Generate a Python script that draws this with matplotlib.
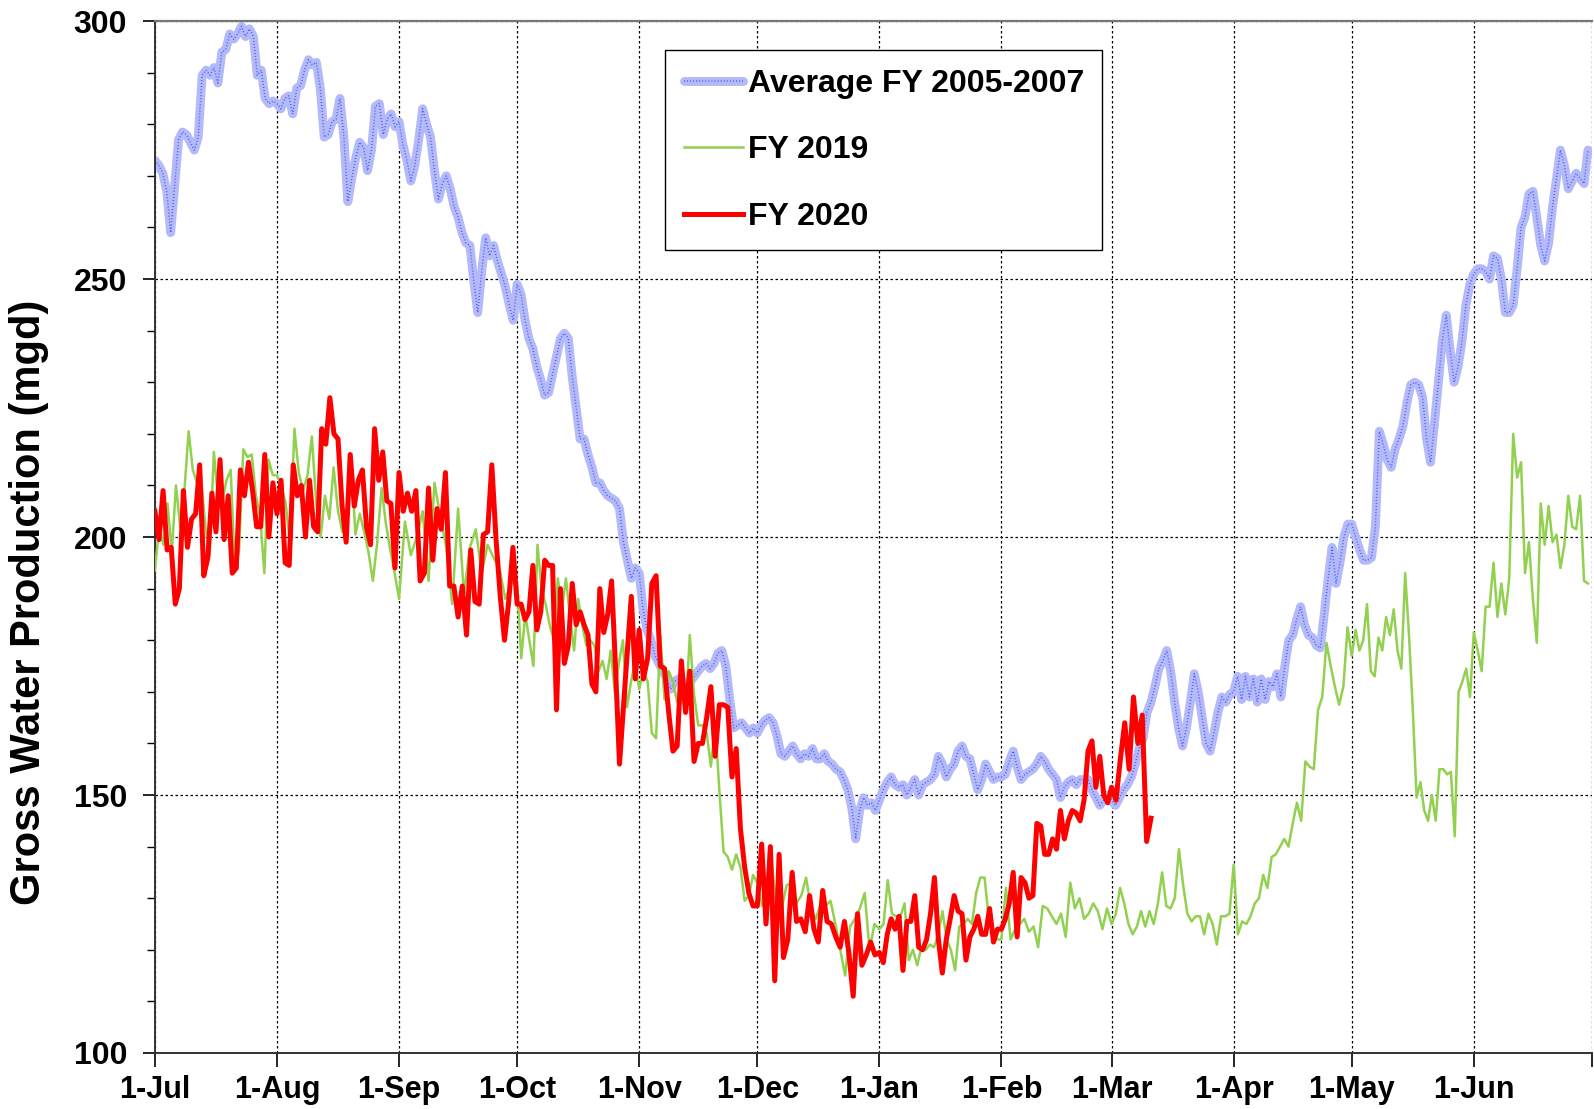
import numpy as np
import matplotlib.pyplot as plt
from matplotlib.ticker import MultipleLocator

# day of fiscal year at which each month starts (1-Jul .. 1-Jun, then next 1-Jul)
month_starts = [0, 31, 62, 92, 123, 153, 184, 215, 243, 274, 304, 335, 365]
month_labels = ['1-Jul', '1-Aug', '1-Sep', '1-Oct', '1-Nov', '1-Dec',
                '1-Jan', '1-Feb', '1-Mar', '1-Apr', '1-May', '1-Jun']

# Average FY 2005-2007 (mgd), readings per month
avg_jul = [273, 272, 270.5, 267, 259, 268, 277, 278.5, 278, 276.5, 275, 277.5, 289.5, 290.5, 289.5, 291,
           288, 294, 294.5, 297.5, 296.5, 297.5, 299, 297, 298.5, 297, 289.5, 290.5, 285, 284, 284.5]
avg_aug = [284, 283, 285, 285.5, 282, 287, 287.5, 290.5, 292.5, 291.5, 292, 287, 277.5, 278, 280.5, 281,
           285, 277.5, 265, 269.5, 273.5, 276.5, 275.5, 271, 275, 283.5, 284, 278, 281, 282, 279.5]
avg_sep = [280.5, 276, 273, 269, 272, 277, 283, 280, 277.5, 271, 265.5, 268.5, 270, 267.5, 264, 262,
           259, 257, 256.5, 249.5, 243.5, 251.5, 258, 254.5, 256.5, 253.5, 251, 248.5, 245, 242]
avg_oct = [249, 247, 242, 238.5, 236.5, 233, 230.5, 227.5, 228, 231.5, 235, 238.5, 239.5, 238.5, 231, 225,
           219, 219, 216, 213.5, 210.5, 210.5, 209, 208, 207.5, 207, 205.5, 199, 195.5, 192, 194]
avg_nov = [193, 186, 182, 180, 177, 175.5, 174, 172.5, 170.5, 172, 172.5, 172, 171, 172, 173, 174,
           175, 175.5, 174.5, 175.5, 177.5, 178, 175, 168.5, 163, 163.5, 164, 163, 162, 163]
avg_dec = [162, 163.5, 164.5, 165, 164, 161.5, 158, 157.5, 158.5, 159.5, 158, 157, 158, 157.5, 159, 157,
           157, 158, 156.5, 156, 155, 154.5, 153, 151, 147.5, 141.5, 147, 149.5, 148, 148.5, 147]
avg_jan = [149, 151, 152.5, 153.5, 152, 151.5, 152, 150, 151.5, 153, 150, 152, 152.5, 153, 154, 157.5,
           156, 153.5, 155, 156, 158.5, 159.5, 157.5, 157, 154, 151, 153, 156, 154.5, 153, 153.5]
avg_feb = [153.5, 154, 156.5, 158.5, 155.5, 153, 154, 154.5, 155, 156, 157.5, 156.5, 155, 154,
           153, 149.5, 151.5, 152.5, 153, 152, 153, 153, 153, 151, 149.5, 148, 149, 150]
avg_mar = [149, 148, 149.5, 151, 152, 153.5, 156, 159, 161, 166, 168, 171, 174.5, 176, 178, 174,
           168, 163, 159.5, 163, 168, 173.5, 170, 165, 160, 158.5, 162, 166, 169, 168, 169.5]
avg_apr = [170, 173, 168.5, 173, 169, 172.5, 168, 172.5, 168.5, 172, 171, 173.5, 169, 175, 180,
           181, 184, 186.5, 183, 181, 180.5, 179, 178.5, 185, 192, 198, 191, 195, 200, 202.5]
avg_may = [202.5, 200, 197.5, 195.5, 195.5, 196, 202, 220.5, 218, 215, 213.5, 217, 219, 221.5, 226, 229.5,
           230, 229.5, 227, 219, 214.5, 222, 230, 238, 243, 236, 230, 233, 238, 245, 249]
avg_jun = [251, 252, 252, 251.5, 250, 254.5, 254, 250, 243.5, 243.5, 245, 252, 260, 262, 266.5,
           267, 262, 256.5, 253.5, 257, 264, 269.5, 275, 272, 267.5, 269, 270.5, 269.5, 268.5, 275]

# FY 2019
fy19_jul = [193.5, 202, 198.5, 206.5, 197, 210, 202, 209, 220.5, 213, 210.5, 211, 202, 196.5, 216.5,
            207.5, 207, 211, 213, 193.5, 197.5, 217, 215.5, 216, 208, 204, 193, 215, 212]
fy19_aug = [212, 210, 206.5, 198.5, 221, 212.5, 209, 212, 219.5, 206.5, 200, 208, 203.5, 213.5,
            205, 201, 204.5, 215, 200.5, 204.5, 201, 197, 191.5, 199, 209.5, 202.5, 197.5, 193]
fy19_sep = [188, 203, 196.5, 200, 205, 191.5, 210.5, 204, 198, 187, 205.5, 189, 198, 201.5, 193,
            198.5, 196, 194, 188, 191]
fy19_oct = [191, 176.5, 185, 180, 175, 198.5, 190, 187, 183, 180, 192, 186, 192, 184.5, 178,
            188, 183, 179, 180, 179, 174, 176, 172.5, 178, 170, 175.5, 180, 167, 172, 176]
fy19_nov = [170.5, 174, 172, 162, 161, 181, 168.5, 174, 172, 168, 169.5, 166, 181, 169.5,
            163.5, 163.5, 162, 155.5, 164, 151, 139, 138, 135.5, 138.5, 136, 129.5, 130.5, 134.5]
fy19_dec = [133, 128.5, 130, 136.5, 128, 128, 132.5, 133, 129, 130.5, 134, 128, 126, 129, 128.5,
            129.5, 125, 120, 115, 124.5, 126, 128, 131, 120, 125]
fy19_jan = [124, 125, 133.5, 127, 126.5, 126.5, 129, 118, 120, 117, 120.5, 120, 121, 120.5, 123,
            127.5, 122, 120, 116, 124.5, 125, 126, 125, 131, 134, 134, 126, 124, 122]
fy19_feb = [122, 132, 122, 124, 125, 126, 123.5, 124.5, 120.5, 128.5, 128, 126.5, 125, 127, 122.5,
            133, 128, 130, 126, 127, 129, 127.5, 124, 128]
fy19_mar = [125, 127, 132, 129, 125, 123, 124.5, 127.5, 124.5, 127.5, 125, 129, 135, 128.5, 128,
            130, 139.5, 132.5, 127, 125.5, 126.5, 126.5, 123, 127, 125, 121, 126.5, 126.5, 127]
fy19_apr = [136.5, 123, 125.5, 125, 126.5, 129, 130, 134.5, 132, 138, 138.5, 140, 141.5, 140,
            144.5, 148.5, 145, 156.5, 155.5, 155, 166.5, 169, 179.5, 175, 171, 167.5, 171, 182.5]
fy19_may = [177, 182, 178, 180, 187, 174, 173, 180.5, 178, 184.5, 181, 186, 178, 174.5, 193, 181,
            166.5, 149.5, 152.5, 147, 145, 150, 145, 155, 155, 154, 154.5, 142, 170, 172, 174.5, 169]
fy19_jun = [181.5, 178, 174, 186.5, 186.5, 195, 184.5, 191, 185, 192, 220, 211.5, 214.5, 193, 199,
            188, 179.5, 206.5, 198.5, 206, 199, 200.5, 194, 198.5, 208, 202, 201.5, 208, 191.5, 191]

# FY 2020 (data through early March)
fy20_jul = [205, 199.5, 209, 197.5, 198, 187, 190, 209, 198, 203.5, 204.5, 214, 192.5, 196, 208.5,
            201, 215, 199.5, 208, 193, 194, 213, 208, 214.5, 209, 202, 202, 216, 200, 210.5]
fy20_aug = [204.5, 211, 195, 194.5, 214, 208, 210, 200, 211, 202, 201, 221, 218, 227, 220,
            219, 206, 199, 216, 206, 211, 213, 202, 198.5, 221, 211, 216.5, 207, 206.5, 194]
fy20_sep = [212.5, 205, 208.5, 205, 209, 191.5, 193, 209.5, 195.5, 205.5, 201.5, 212.5, 190.5, 190.5,
            184.5, 190.5, 181, 197.5, 187.5, 187, 200.5, 201, 214, 199.5, 188.5, 180, 187.5, 198]
fy20_oct = [187, 187, 184, 185.5, 194.5, 182, 185.5, 195.5, 194.5, 194.5, 166.5, 190, 175.5, 179, 191,
            183, 185.5, 183, 181, 171.5, 170, 190, 181.5, 185, 191.5, 174.5, 156, 167, 178, 188.5, 172.5]
fy20_nov = [182, 172.5, 176.5, 191, 192.5, 175, 174.5, 166, 158.5, 159.5, 176, 166, 174, 156.5,
            160, 160, 165, 171, 157.5, 167.5, 167.5, 167, 153.5, 159, 143.5, 136, 131, 128.5]
fy20_dec = [128.5, 140.5, 125, 140, 114, 138.5, 118.5, 122, 135, 125.5, 126, 123.5, 130.5, 124,
            121.5, 131.5, 125.5, 125, 122.5, 120.5, 125.5, 119.5, 111, 127, 117, 119, 121.5, 119]
fy20_jan = [119.5, 117.5, 123, 126, 124, 126.5, 116, 125.5, 125.5, 130.5, 120.5, 120, 122, 127, 134,
            122, 115.5, 122, 126, 130.5, 127.5, 127, 118, 122.5, 124, 126.5, 123, 123, 128, 121.5, 124]
fy20_feb = [124, 126, 129, 135, 122.5, 134, 133, 130, 130.5, 144.5, 144, 138.5, 138.5, 141.5,
            139.5, 147, 141.5, 145, 147, 146.5, 145, 149, 158.5, 160.5, 151.5, 157.5, 150, 148.5]
fy20_mar = [151.5, 149, 157, 164, 155, 169, 160, 165.5, 141, 145.5]
fy20_last_day = 253


def spread(months, last_end=None):
    xs, ys = [], []
    for i, vals in enumerate(months):
        a, b = month_starts[i], month_starts[i + 1]
        if last_end is not None and i == len(months) - 1:
            xs.extend(np.linspace(a, last_end, len(vals)))
        else:
            xs.extend(np.linspace(a, b, len(vals), endpoint=False))
        ys.extend(vals)
    return np.array(xs), np.array(ys)


x_avg, y_avg = spread([avg_jul, avg_aug, avg_sep, avg_oct, avg_nov, avg_dec,
                       avg_jan, avg_feb, avg_mar, avg_apr, avg_may, avg_jun])
x_19, y_19 = spread([fy19_jul, fy19_aug, fy19_sep, fy19_oct, fy19_nov, fy19_dec,
                     fy19_jan, fy19_feb, fy19_mar, fy19_apr, fy19_may, fy19_jun])
x_20, y_20 = spread([fy20_jul, fy20_aug, fy20_sep, fy20_oct, fy20_nov, fy20_dec,
                     fy20_jan, fy20_feb, fy20_mar], last_end=fy20_last_day)

plt.rcParams['font.family'] = ['Liberation Sans', 'DejaVu Sans']
plt.rcParams['font.weight'] = 'bold'

fig = plt.figure(figsize=(15.94, 11.09), dpi=100)
ax = fig.add_axes([0.0972, 0.0505, 0.9015, 0.9305])

band, = ax.plot(x_avg, y_avg, color='#b4baf8', lw=6.4, solid_joinstyle='round',
                solid_capstyle='round', zorder=2)
dots, = ax.plot(x_avg, y_avg, color='#4455ff', lw=1.1, ls=(0, (0.6, 1.4)), zorder=2.1)
g19, = ax.plot(x_19, y_19, color='#92d050', lw=1.8, zorder=3)
r20, = ax.plot(x_20, y_20, color='#ff0000', lw=3.6, solid_joinstyle='round', zorder=4)

ax.set_xlim(0, 365)
ax.set_ylim(100, 300)
ax.set_xticks(month_starts)
ax.set_xticklabels(month_labels + [''])
ax.yaxis.set_major_locator(MultipleLocator(50))
ax.yaxis.set_minor_locator(MultipleLocator(10))

ax.grid(True, which='major', color='black', ls=(0, (2, 2)), lw=0.9)
ax.set_axisbelow(True)

for side in ['left', 'bottom']:
    ax.spines[side].set_color('#333333')
    ax.spines[side].set_linewidth(1.4)
ax.spines['top'].set_color('#777777')
ax.spines['top'].set_linewidth(1.6)
ax.spines['right'].set_visible(False)

ax.tick_params(axis='x', length=10, width=1.2, pad=6, labelsize=22, colors='black')
ax.tick_params(axis='y', which='major', length=9, width=1.2, pad=11, labelsize=23)
ax.tick_params(axis='y', which='minor', length=6, width=1.0)
for lab in ax.get_xticklabels() + ax.get_yticklabels():
    lab.set_fontweight('bold')

ax.set_ylabel('Gross Water Production (mgd)', fontsize=30, fontweight='bold')
ax.yaxis.set_label_coords(-0.074, 0.437)

leg = ax.legend([(band, dots), g19, r20],
                ['Average FY 2005-2007', 'FY 2019', 'FY 2020'],
                loc='upper left', bbox_to_anchor=(0.344, 0.987),
                prop={'size': 23, 'weight': 'bold'},
                handlelength=1.85, handletextpad=0.15, labelspacing=1.14,
                borderpad=0.58, fancybox=False, framealpha=1, edgecolor='black')
leg.get_frame().set_linewidth(1.0)

fig.savefig('out.png', dpi=100)
